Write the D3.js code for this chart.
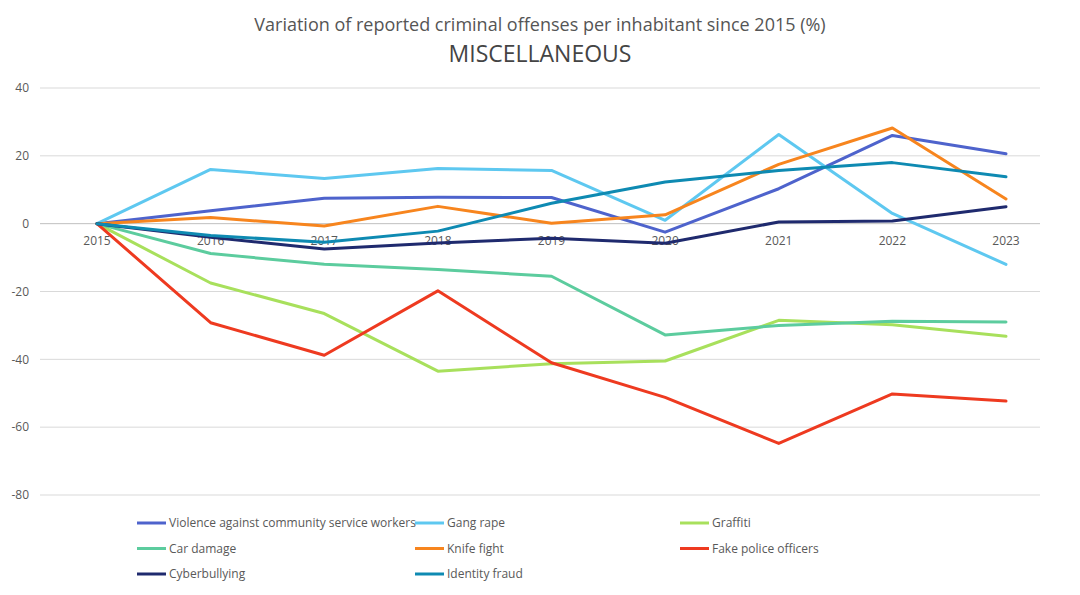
<!DOCTYPE html>
<html><head><meta charset="utf-8">
<script src="https://cdn.jsdelivr.net/npm/d3@7"></script>
<style>body{margin:0;background:#fff;font-family:"Open Sans",Roboto,sans-serif}</style>
</head><body>
<svg width="1080" height="595"></svg>
<script>
var years = ["2015","2016","2017","2018","2019","2020","2021","2022","2023"];
var yTicks = [40,20,0,-20,-40,-60,-80];
var seriesNames = ["Violence against community service workers","Gang rape","Graffiti","Car damage","Knife fight","Fake police officers","Cyberbullying","Identity fraud"];
var violence = [0,3.8,7.5,7.8,7.7,-2.5,10.3,26,20.6];
var gangRape = [0,16,13.3,16.3,15.7,1,26.3,3,-12];
var graffiti = [0,-17.5,-26.5,-43.5,-41.3,-40.5,-28.5,-29.8,-33.2];
var carDamage = [0,-8.8,-12,-13.5,-15.5,-32.8,-30,-28.8,-29];
var knifeFight = [0,1.8,-0.7,5.1,0.1,2.6,17.5,28.2,7.3];
var fakePolice = [0,-29.2,-38.8,-19.8,-41,-51.2,-64.8,-50.2,-52.3];
var cyberbullying = [0,-4,-7.5,-5.7,-4.3,-5.8,0.5,0.8,5];
var identityFraud = [0,-3.5,-5.5,-2.2,6,12.3,15.7,18,13.8];
var colors = ["#4e63cc","#5ec8f0","#a8e05c","#5ccc9e","#f7851e","#ee3a20","#1f2a6e","#0e8ab2"];
var allSeries = [violence,gangRape,graffiti,carDamage,knifeFight,fakePolice,cyberbullying,identityFraud];

var svg = d3.select("svg");
var x = d3.scalePoint().domain(years).range([97, 1006]);
var y = d3.scaleLinear().domain([-80, 40]).range([495, 88]);

svg.append("text").attr("x", 540).attr("y", 31).attr("text-anchor","middle")
  .attr("font-size", 18).attr("fill","#555").text("Variation of reported criminal offenses per inhabitant since 2015 (%)");
svg.append("text").attr("x", 540).attr("y", 62).attr("text-anchor","middle")
  .attr("font-size", 23).attr("fill","#444").text("MISCELLANEOUS");

svg.append("g").selectAll("line").data(yTicks).enter().append("line")
  .attr("x1", 40).attr("x2", 1040).attr("y1", d => y(d)).attr("y2", d => y(d))
  .attr("stroke", d => d === 0 ? "#bfbfbf" : "#d9d9d9").attr("stroke-width", 1);

svg.append("g").selectAll("text").data(yTicks).enter().append("text")
  .attr("x", 29).attr("y", d => y(d)).attr("dy","0.35em").attr("text-anchor","end")
  .attr("font-size", 12).attr("fill","#595959").text(d => d);

svg.append("g").selectAll("text").data(years).enter().append("text")
  .attr("x", d => x(d)).attr("y", y(0) + 21).attr("text-anchor","middle")
  .attr("font-size", 12).attr("fill","#595959").text(d => d);

var line = d3.line().x((d, i) => x(years[i])).y(d => y(d));
svg.append("g").selectAll("path").data(allSeries).enter().append("path")
  .attr("d", line).attr("fill","none").attr("stroke", (d, i) => colors[i])
  .attr("stroke-width", 3).attr("stroke-linejoin","round").attr("stroke-linecap","round");

var legX = [137, 415, 680];
var legend = svg.append("g").selectAll("g").data(seriesNames).enter().append("g")
  .attr("transform", (d, i) => "translate(" + legX[i % 3] + "," + (523 + Math.floor(i / 3) * 25.5) + ")");
legend.append("line").attr("x1", 0).attr("x2", 29).attr("stroke", (d, i) => colors[i]).attr("stroke-width", 3);
legend.append("text").attr("x", 32).attr("dy","0.35em").attr("font-size", 12).attr("fill","#595959").text(d => d);
</script>
</body></html>
